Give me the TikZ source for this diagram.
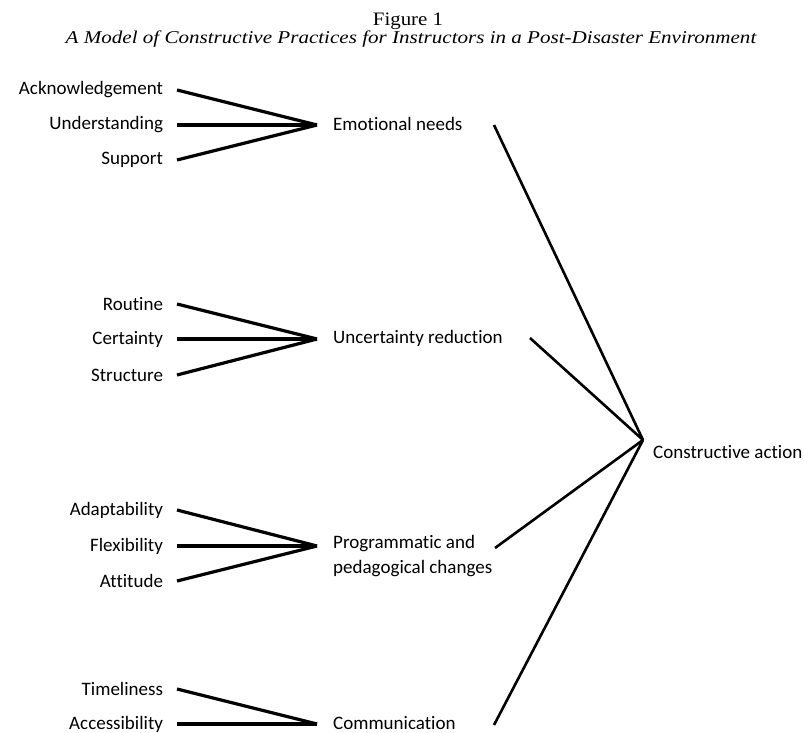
\documentclass[tikz,border=0pt]{standalone}
\usepackage{fontspec}
\setmainfont{Carlito}[Ligatures=NoCommon]
\newfontfamily\titlefont{Liberation Serif}
\usetikzlibrary{positioning}

\tikzset{
  leaf/.style={anchor=east,inner sep=0pt,outer xsep=14pt},
  factor/.style={anchor=west,inner sep=0pt,align=left},
  spoke/.style={line width=3.2pt},
  ray/.style={line width=2.6pt}
}

\begin{document}
\begin{tikzpicture}[x=1pt,y=-1pt]
  \useasboundingbox (0,0) rectangle (804,733);
  \node[anchor=base,inner sep=0pt,xscale=1.1,font=\titlefont\fontsize{19}{22}\selectfont] (fig) at (408,26) {Figure 1};
  \node[anchor=base,inner sep=0pt,xscale=1.17,font=\titlefont\itshape\fontsize{18}{22}\selectfont] (cap) at (411,44)
    {A Model of Constructive Practices for Instructors in a Post-Disaster Environment};
  \fontsize{19}{25}\selectfont
  % emotional needs
  \coordinate (emo-in) at (317,125);
  \node[leaf] (ack) at (177,90) {Acknowledgement};
  \node[leaf] (und) at (177,125) {Understanding};
  \node[leaf] (sup) at (177,160) {Support};
  \node[factor] (emo) at (333,124) {Emotional needs};
  \draw[spoke] (ack.east) -- (emo-in);
  \draw[spoke] (und.east) -- (emo-in);
  \draw[spoke] (sup.east) -- (emo-in);
  % uncertainty reduction
  \coordinate (unc-in) at (317,339);
  \node[leaf] (rou) at (177,304) {Routine};
  \node[leaf] (cer) at (177,339) {Certainty};
  \node[leaf] (str) at (177,375) {Structure};
  \node[factor] (unc) at (333,338) {Uncertainty reduction};
  \draw[spoke] (rou.east) -- (unc-in);
  \draw[spoke] (cer.east) -- (unc-in);
  \draw[spoke] (str.east) -- (unc-in);
  % programmatic and pedagogical changes
  \coordinate (prg-in) at (317,546);
  \node[leaf] (ada) at (177,510) {Adaptability};
  \node[leaf] (fle) at (177,546) {Flexibility};
  \node[leaf] (att) at (177,581) {Attitude};
  \node[factor] (prg) at (333,556) {Programmatic and\\pedagogical changes};
  \draw[spoke] (ada.east) -- (prg-in);
  \draw[spoke] (fle.east) -- (prg-in);
  \draw[spoke] (att.east) -- (prg-in);
  % communication
  \coordinate (com-in) at (317,724);
  \node[leaf] (tim) at (177,689) {Timeliness};
  \node[leaf] (acc) at (177,724) {Accessibility};
  \node[factor] (com) at (333,723) {Communication};
  \draw[spoke] (tim.east) -- (com-in);
  \draw[spoke] (acc.east) -- (com-in);
  % constructive action
  \coordinate (act-in) at (643,440);
  \node[factor] (act) at (653,452) {Constructive action};
  \coordinate (emo-out) at (494,125);
  \coordinate (unc-out) at (530,338);
  \coordinate (prg-out) at (495,548);
  \coordinate (com-out) at (494,725);
  \foreach \f in {emo,unc,prg,com}
    \draw[ray] (\f-out) -- (act-in);
\end{tikzpicture}
\end{document}
